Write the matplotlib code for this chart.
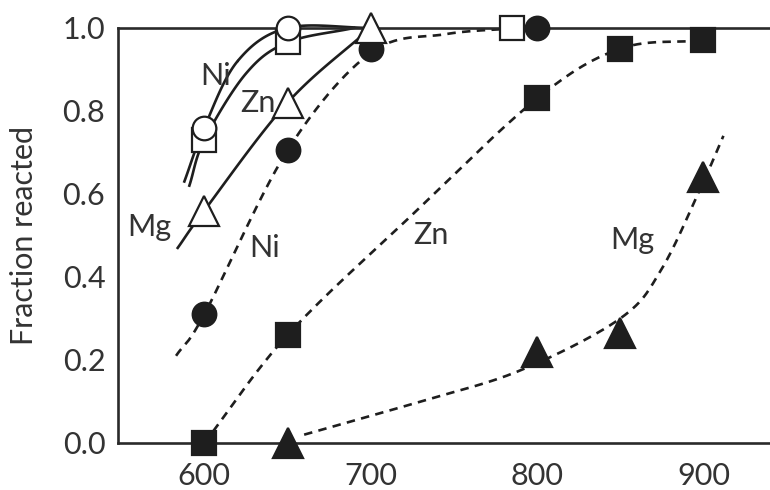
import numpy as np
import matplotlib.pyplot as plt

plt.rcParams['font.family'] = ['Lato', 'DejaVu Sans']

# measured points (temperature, fraction reacted)
ni_open_x = [600, 650]
ni_open_y = [0.76, 1.0]
zn_open_x = [600, 650, 785]
zn_open_y = [0.73, 0.965, 1.0]
mg_open_x = [600, 650, 700]
mg_open_y = [0.56, 0.82, 1.0]

ni_fill_x = [600, 650, 700, 800]
ni_fill_y = [0.31, 0.705, 0.95, 1.0]
zn_fill_x = [600, 650, 800, 850, 900]
zn_fill_y = [0.0, 0.26, 0.83, 0.95, 0.97]
mg_fill_x = [650, 800, 850, 900]
mg_fill_y = [0.0, 0.22, 0.265, 0.64]

# hand drawn guide curves (knots)
ni_solid_x = [588, 600, 620, 650, 700]
ni_solid_y = [0.63, 0.76, 0.92, 1.0, 1.0]
zn_solid_x = [591, 600, 625, 650, 690]
zn_solid_y = [0.62, 0.73, 0.89, 0.965, 1.0]
mg_solid_x = [584, 600, 650, 700]
mg_solid_y = [0.47, 0.56, 0.82, 1.0]
ni_dash_x = [583, 600, 650, 700, 745, 790]
ni_dash_y = [0.21, 0.31, 0.705, 0.94, 0.985, 1.0]
zn_dash_x = [600, 650, 725, 800, 850, 900]
zn_dash_y = [0.0, 0.26, 0.55, 0.83, 0.95, 0.97]
mg_dash_x = [660, 730, 790, 850, 875, 900, 912]
mg_dash_y = [0.02, 0.10, 0.175, 0.30, 0.42, 0.63, 0.74]

labels = [('Ni', 607, 0.885), ('Zn', 632, 0.82), ('Mg', 567, 0.52),
          ('Ni', 636, 0.47), ('Zn', 736, 0.50), ('Mg', 857, 0.49)]


def smooth(xs, ys, n=30):
    # catmull-rom through the knots
    p = np.column_stack([xs, ys]).astype(float)
    p = np.vstack([2 * p[0] - p[1], p, 2 * p[-1] - p[-2]])
    out = []
    t = np.linspace(0, 1, n)[:, None]
    for i in range(1, len(p) - 2):
        p0, p1, p2, p3 = p[i - 1], p[i], p[i + 1], p[i + 2]
        seg = 0.5 * ((2 * p1) + (-p0 + p2) * t + (2 * p0 - 5 * p1 + 4 * p2 - p3) * t ** 2
                     + (-p0 + 3 * p1 - 3 * p2 + p3) * t ** 3)
        out.append(seg)
    out = np.vstack(out)
    return out[:, 0], out[:, 1]


col = '#1e1e1e'
fig = plt.figure(figsize=(7.7, 4.9), dpi=100)
ax = fig.add_axes([0.153, 0.096, 0.847, 0.847])

for xs, ys in [(ni_solid_x, ni_solid_y), (zn_solid_x, zn_solid_y), (mg_solid_x, mg_solid_y)]:
    sx, sy = smooth(xs, ys)
    ax.plot(sx, sy, '-', color=col, lw=1.9, zorder=2, clip_on=False)
for xs, ys in [(ni_dash_x, ni_dash_y), (zn_dash_x, zn_dash_y), (mg_dash_x, mg_dash_y)]:
    sx, sy = smooth(xs, ys)
    ax.plot(sx, sy, color=col, lw=1.9, dashes=(3.2, 2.4), zorder=2, clip_on=False)

mk = dict(linestyle='none', mec=col, mew=1.6, zorder=4, clip_on=False)
ax.plot(zn_fill_x, zn_fill_y, 's', ms=17, mfc=col, **mk)
ax.plot(mg_fill_x, mg_fill_y, '^', ms=21, mfc=col, **mk)
ax.plot(ni_fill_x, ni_fill_y, 'o', ms=17, mfc=col, **mk)
ax.plot(zn_open_x, zn_open_y, 's', ms=17, mfc='white', **mk)
ax.plot(mg_open_x, mg_open_y, '^', ms=21, mfc='white', **mk)
ax.plot(ni_open_x, ni_open_y, 'o', ms=17, mfc='white', **mk)

for txt, x, y in labels:
    ax.text(x, y, txt, fontsize=22, color='#333333', ha='center', va='center', zorder=5)

ax.set_xlim(548, 940)
ax.set_ylim(0, 1.0)
ax.set_xticks([600, 700, 800, 900])
ax.set_yticks([0.0, 0.2, 0.4, 0.6, 0.8, 1.0])
ax.set_yticklabels(['0.0', '0.2', '0.4', '0.6', '0.8', '1.0'])
ax.tick_params(axis='y', length=0, labelsize=22, labelcolor='#333333', pad=9)
ax.tick_params(axis='x', length=0, labelsize=22, labelcolor='#333333', pad=14)
ax.set_ylabel('Fraction reacted', fontsize=22, color='#333333', labelpad=18)
for s in ['left', 'bottom', 'top']:
    ax.spines[s].set_linewidth(1.9)
    ax.spines[s].set_color('#2a2a2a')
ax.spines['right'].set_visible(False)

fig.savefig('out.png', dpi=100)
